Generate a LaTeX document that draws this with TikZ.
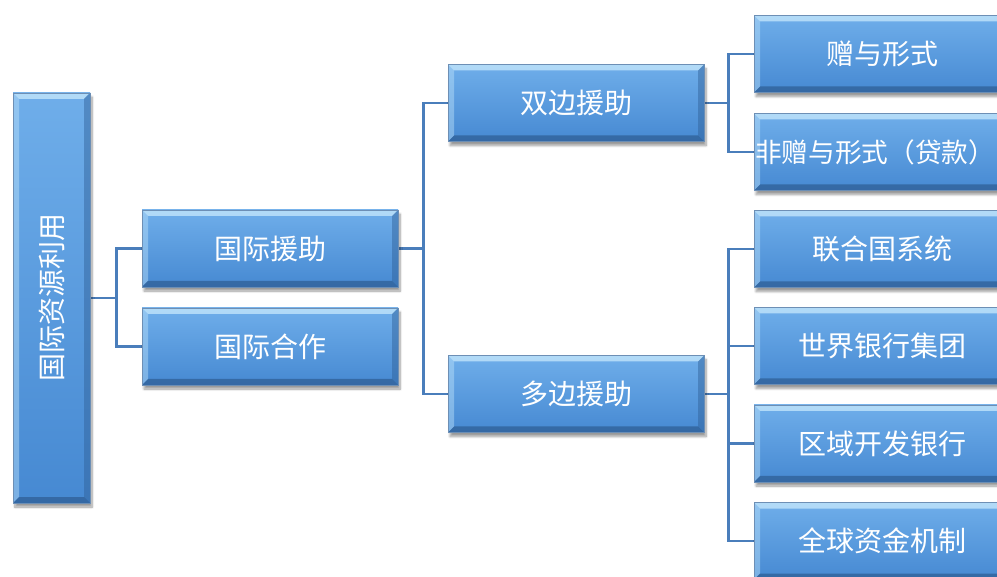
\documentclass[tikz,border=0pt]{standalone}
\usepackage{fontspec}
\newfontfamily\cjk{Noto Sans CJK SC}
\usetikzlibrary{positioning,shadows.blur,backgrounds}
\definecolor{bodytop}{HTML}{6FAEEA}
\definecolor{bodybot}{HTML}{4689D2}
\definecolor{edgelt}{HTML}{BDE2FA}
\definecolor{edgedk}{HTML}{2F5F96}
\definecolor{link}{HTML}{4A7EBB}
\newcommand{\bev}{4.5pt}
\tikzset{
  box/.style={minimum width=192pt,minimum height=57.75pt,inner sep=0pt,
    font=\cjk\fontsize{21}{25}\selectfont,text=white,
    top color=bodytop,bottom color=bodybot,draw=edgedk!70,line width=0.4pt,
    blur shadow={shadow xshift=1.5pt,shadow yshift=-3pt,shadow opacity=40,shadow blur steps=8},
    path picture={
      \coordinate (nw) at (path picture bounding box.north west);
      \coordinate (ne) at (path picture bounding box.north east);
      \coordinate (sw) at (path picture bounding box.south west);
      \coordinate (se) at (path picture bounding box.south east);
      % bevelled rim: light on top/left, dark on bottom/right
      \fill[edgelt,opacity=0.85] (nw) -- (ne) -- ([shift={(-\bev,-\bev)}]ne) -- ([shift={(\bev,-\bev)}]nw) -- cycle;
      \fill[edgelt,opacity=0.45] (nw) -- (sw) -- ([shift={(\bev,\bev)}]sw) -- ([shift={(\bev,-\bev)}]nw) -- cycle;
      \fill[edgedk,opacity=0.75] (sw) -- (se) -- ([shift={(-\bev,\bev)}]se) -- ([shift={(\bev,\bev)}]sw) -- cycle;
      \fill[edgedk,opacity=0.45] (ne) -- (se) -- ([shift={(-\bev,\bev)}]se) -- ([shift={(-\bev,-\bev)}]ne) -- cycle;
    }},
  rootbox/.style={box,minimum width=57.75pt,minimum height=307.5pt},
  widebox/.style={box,font=\cjk\fontsize{20}{24}\selectfont},
  link/.style={draw=link,line width=2pt},
}
\begin{document}
\begin{tikzpicture}[x=0.75pt,y=-0.75pt]
\useasboundingbox (0,0) rectangle (997,577);
\node[rootbox] (root) at (51.5,298) {\rotatebox{90}{国际资源利用}};
\node[box] (aid) at (270,248.5) {国际援助};
\node[box] (coop) at (270,346.5) {国际合作};
\node[box] (bi) at (576,103) {双边援助};
\node[box] (multi) at (576,394) {多边援助};
\node[box] (c1) at (882,54) {赠与形式};
\node[widebox] (c2) at (882,152) {\hspace*{-10.5pt}非赠与形式（贷款）};
\foreach \n/\y/\t in {c3/249/联合国系统,c4/346/世界银行集团,
    c5/443.5/区域开发银行,c6/541/全球资金机制}
  \node[box] (\n) at (882,\y) {\t};
\begin{scope}[on background layer]
\draw[link] (root.east) -- ++(26,0) coordinate (j1);
\foreach \v in {aid,coop} \draw[link] (j1) |- (\v.west);
\draw[link] (aid.east) -- ++(25,0) coordinate (j2);
\foreach \v in {bi,multi} \draw[link] (j2) |- (\v.west);
\draw[link] (bi.east) -- ++(24,0) coordinate (j3);
\foreach \v in {c1,c2} \draw[link] (j3) |- (\v.west);
\draw[link] (multi.east) -- ++(24,0) coordinate (j4);
\foreach \v in {c3,c4,c5,c6} \draw[link] (j4) |- (\v.west);
\end{scope}
\end{tikzpicture}
\end{document}
